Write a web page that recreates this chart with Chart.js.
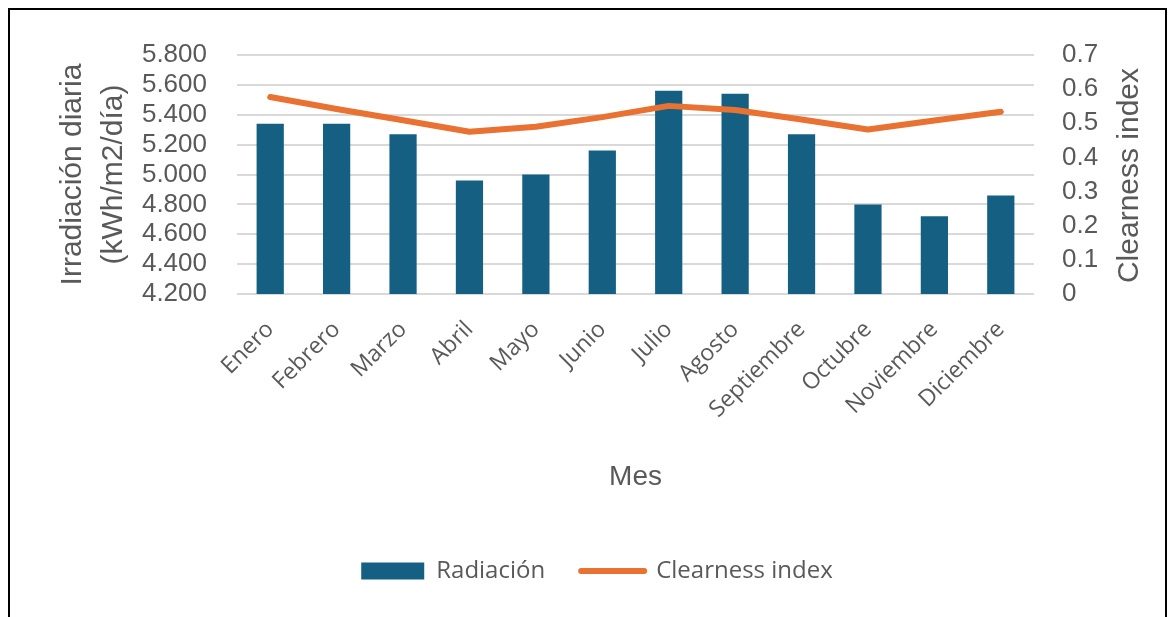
<!DOCTYPE html>
<html><head><meta charset="utf-8">
<script src="https://cdn.jsdelivr.net/npm/chart.js@4"></script>
<style>
html,body{margin:0;padding:0;background:#fff;overflow:hidden}
#wrap{position:absolute;left:0;top:0;width:1174px;height:617px}
#frame{position:absolute;left:8px;top:8px;width:1155px;height:700px;border:2px solid #000;pointer-events:none}
</style></head><body>
<div id="wrap"><canvas id="c" width="1174" height="617"></canvas></div>
<div id="frame"></div>
<script>
const months = ['Enero','Febrero','Marzo','Abril','Mayo','Junio','Julio','Agosto','Septiembre','Octubre','Noviembre','Diciembre'];
const radiacion = [5.34,5.34,5.27,4.96,5.00,5.16,5.56,5.54,5.27,4.80,4.72,4.86];
const clearness = [0.577,0.542,0.509,0.475,0.49,0.518,0.551,0.539,0.511,0.482,0.508,0.534];
const leftTitle = ['Irradiación diaria','(kWh/m2/día)'];
const rightTitle = 'Clearness index';
const xTitle = 'Mes';

const GREY = '#595959';
const BLUE = '#156082';
const ORANGE = '#E97132';

const rightTitlePlugin = {
  id: 'rightTitle',
  afterDraw(chart) {
    const ctx = chart.ctx;
    const a = chart.chartArea;
    ctx.save();
    ctx.translate(1130, (a.top + a.bottom) / 2 + 1);
    ctx.rotate(-Math.PI / 2);
    ctx.font = '30px "Liberation Sans", Arial, sans-serif';
    ctx.fillStyle = GREY;
    ctx.textAlign = 'center';
    ctx.textBaseline = 'middle';
    ctx.fillText(rightTitle, 0, 0);
    ctx.restore();
  }
};

new Chart(document.getElementById('c'), {
  data: {
    labels: months,
    datasets: [
      { type: 'bar', label: 'Radiación', data: radiacion, backgroundColor: BLUE,
        yAxisID: 'y', order: 1, barPercentage: 0.41, categoryPercentage: 1 },
      { type: 'line', label: 'Clearness index', data: clearness, borderColor: ORANGE,
        backgroundColor: ORANGE, borderWidth: 6, pointRadius: 0, tension: 0,
        borderCapStyle: 'round', borderJoinStyle: 'round', yAxisID: 'y2', order: 0 }
    ]
  },
  options: {
    responsive: false, animation: false, devicePixelRatio: 1,
    layout: { padding: { top: 55, bottom: 24, left: 20, right: 0 } },
    plugins: {
      tooltip: { enabled: false },
      legend: {
        position: 'bottom',
        labels: {
          usePointStyle: true, pointStyleWidth: 63, boxHeight: 17, padding: 36,
          color: GREY, font: { family: '"Open Sans", sans-serif', size: 24 },
          generateLabels(chart) {
            return [
              { text: 'Radiación', fillStyle: BLUE, strokeStyle: BLUE, lineWidth: 0, pointStyle: 'rect', datasetIndex: 0, fontColor: GREY },
              { text: 'Clearness index', fillStyle: ORANGE, strokeStyle: ORANGE, lineWidth: 6, lineCap: 'round', pointStyle: 'line', datasetIndex: 1, fontColor: GREY }
            ];
          }
        }
      }
    },
    scales: {
      x: {
        grid: { display: false, drawTicks: false },
        border: { display: false },
        ticks: { color: GREY, font: { family: '"Open Sans", sans-serif', size: 23 }, minRotation: 45, maxRotation: 45, padding: 22, autoSkip: false },
        title: { display: true, text: xTitle, color: GREY, font: { family: '"Liberation Sans", Arial, sans-serif', size: 28 }, padding: { top: 0, bottom: 29 } },
        afterFit(s) { s.height = 229; }
      },
      y: {
        position: 'left', min: 4.2, max: 5.8,
        grid: { color: '#D9D9D9', lineWidth: 2, drawTicks: false },
        border: { display: false },
        ticks: { stepSize: 0.2, autoSkip: false, padding: 30, color: GREY,
          font: { family: '"Liberation Sans", Arial, sans-serif', size: 26, lineHeight: 1 },
          callback: v => Number(v).toFixed(3) },
        title: { display: true, text: leftTitle, color: GREY,
          font: { family: '"Liberation Sans", Arial, sans-serif', size: 30, lineHeight: 1.34 },
          padding: { top: 33, bottom: 0 } },
        afterFit(s) { s.width = 217; }
      },
      y2: {
        position: 'right', min: 0, max: 0.7,
        grid: { display: false, drawTicks: false },
        border: { display: false },
        ticks: { stepSize: 0.1, autoSkip: false, padding: 28, color: GREY,
          font: { family: '"Liberation Sans", Arial, sans-serif', size: 26, lineHeight: 1 },
          callback: v => (Math.abs(v) < 1e-9 ? '0' : Number(v).toFixed(1)) },
        afterFit(s) { s.width = 140; }
      }
    }
  },
  plugins: [rightTitlePlugin]
});
</script>
</body></html>
